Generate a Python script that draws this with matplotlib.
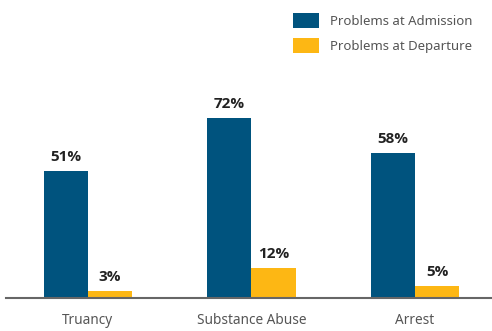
import matplotlib
matplotlib.use("Agg")
import matplotlib.pyplot as plt
import numpy as np

categories = ["Truancy", "Substance Abuse", "Arrest"]
admission = [51, 72, 58]
departure = [3, 12, 5]
series_names = ["Problems at Admission", "Problems at Departure"]

BLUE = "#00537E"
YELLOW = "#FDB714"

plt.rcParams['font.family'] = ['Noto Sans', 'DejaVu Sans']

W, H = 492, 331
fig = plt.figure(figsize=(W/100, H/100), dpi=100)
left_px, right_px, base_px, top_px = 6, 492, 298, 60.5
ax = fig.add_axes([left_px/W, (H-base_px)/H, (right_px-left_px)/W, (base_px-top_px)/H])

x = np.arange(len(categories))
bw = 0.27
b1 = ax.bar(x - bw/2, admission, bw, color=BLUE, label=series_names[0])
b2 = ax.bar(x + bw/2, departure, bw, color=YELLOW, label=series_names[1])

for bars, vals in ((b1, admission), (b2, departure)):
    for r, v in zip(bars, vals):
        ax.annotate(f"{v}%", (r.get_x() + r.get_width()/2, r.get_height()),
                    xytext=(0, 5), textcoords="offset points",
                    ha="center", va="bottom", fontsize=11, fontweight="bold",
                    color="#222222", family=["Open Sans", "DejaVu Sans"])

ax.set_xlim(-0.5015, 2.471)
ax.set_ylim(0, 95)
ax.set_xticks(x)
ax.set_xticklabels(categories, fontsize=9.8, color="#555555")
ax.tick_params(axis="x", length=0, pad=11)
ax.set_yticks([])
for s in ("top", "right", "left"):
    ax.spines[s].set_visible(False)
ax.spines["bottom"].set_color("#666666")
ax.spines["bottom"].set_linewidth(1.5)

leg = ax.legend(loc="upper left", bbox_to_anchor=(293/W, 1 - 13/H), bbox_transform=fig.transFigure,
                frameon=False, fontsize=9.5, handlelength=2.0, handleheight=1.35,
                handletextpad=0.8, labelspacing=0.75, borderaxespad=0, borderpad=0)
for t in leg.get_texts():
    t.set_color("#555555")

fig.savefig("out.png", dpi=100)
